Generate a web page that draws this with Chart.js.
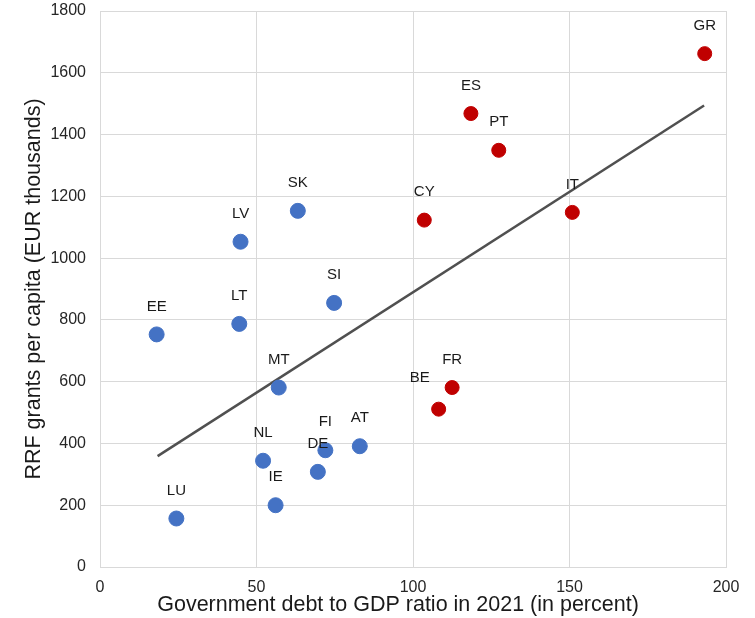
<!doctype html>
<html lang="en">
<head>
<meta charset="UTF-8">
<title>RRF grants vs government debt</title>
<script src="https://cdn.jsdelivr.net/npm/chart.js@4/dist/chart.umd.min.js"></script>
<style>
	body { margin: 0; background: #fff; }
	#holder { width: 755px; height: 618px; }
</style>
</head>
<body>
<div id="holder"><canvas id="chart-area" width="755" height="618"></canvas></div>
<script>
// countries with debt below ~100% (blue group)
var lowCodes = ['LU', 'IE', 'NL', 'DE', 'FI', 'AT', 'MT', 'EE', 'LT', 'SI', 'LV', 'SK'];
var lowDebt  = [24.4, 56.1, 52.1, 69.6, 72.0, 83.0, 57.1, 18.1, 44.5, 74.8, 44.9, 63.2];
var lowRrf   = [157, 200, 344, 308, 378, 391, 581, 753, 787, 855, 1053, 1153];

// high-debt group (red)
var highCodes = ['CY', 'ES', 'PT', 'IT', 'GR', 'FR', 'BE'];
var highDebt  = [103.6, 118.5, 127.4, 150.9, 193.2, 112.5, 108.2];
var highRrf   = [1123, 1468, 1349, 1148, 1662, 581, 511];

// trend line end points
var trendX = [18.4, 193.0];
var trendY = [359, 1494];

var xTicks = [0, 50, 100, 150, 200];
var yTicks = [0, 200, 400, 600, 800, 1000, 1200, 1400, 1600, 1800];

var xTitle = 'Government debt to GDP ratio in 2021 (in percent)';
var yTitle = 'RRF grants per capita (EUR thousands)';

function toPoints(xs, ys) {
	var out = [];
	for (var i = 0; i < xs.length; i++) out.push({x: xs[i], y: ys[i]});
	return out;
}

var FONT = "'Liberation Sans', Arial, sans-serif";

var labelPlugin = {
	id: 'pointLabels',
	afterDatasetsDraw: function(chart) {
		var ctx = chart.ctx;
		ctx.save();
		ctx.font = '15px ' + FONT;
		ctx.fillStyle = '#1a1a1a';
		ctx.textAlign = 'center';
		ctx.textBaseline = 'middle';
		chart.data.datasets.forEach(function(ds, di) {
			if (!ds.codes) return;
			var meta = chart.getDatasetMeta(di);
			meta.data.forEach(function(pt, i) {
				var code = ds.codes[i];
				var dx = 0, dy = -28;
				if (code === 'BE') { dx = -19; dy = -31; }
				ctx.fillText(code, pt.x + dx, pt.y + dy);
			});
		});
		// x axis title, a bit left of the plot centre like the original
		var area = chart.chartArea;
		ctx.font = '21.5px ' + FONT;
		ctx.fillText(xTitle, (area.left + area.right) / 2 - 15, 605);
		ctx.restore();
	}
};

function noPad(s) {
	s.paddingTop = 0; s.paddingBottom = 0;
	s.paddingLeft = 0; s.paddingRight = 0;
}

var config = {
	type: 'scatter',
	data: {
		datasets: [{
			type: 'line',
			data: toPoints(trendX, trendY),
			borderColor: '#505050',
			borderWidth: 2.5,
			pointRadius: 0,
			fill: false,
			order: 3
		}, {
			codes: lowCodes,
			data: toPoints(lowDebt, lowRrf),
			backgroundColor: '#4472C4',
			borderColor: '#4472C4',
			pointRadius: 7.5,
			order: 1
		}, {
			codes: highCodes,
			data: toPoints(highDebt, highRrf),
			backgroundColor: '#C00000',
			borderColor: '#C00000',
			pointRadius: 7,
			order: 2
		}]
	},
	options: {
		responsive: false,
		animation: false,
		events: [],
		layout: { padding: { top: 11, right: 29, left: 0, bottom: 0 } },
		plugins: { legend: { display: false }, tooltip: { enabled: false } },
		scales: {
			x: {
				type: 'linear',
				min: 0, max: 200,
				afterBuildTicks: function(s) { s.ticks = xTicks.map(function(v) { return {value: v}; }); },
				afterFit: function(s) { s.height = 51; noPad(s); },
				grid: { color: '#d9d9d9', lineWidth: 1, drawTicks: false },
				border: { color: '#d9d9d9' },
				ticks: {
					color: '#262626', font: { size: 16, family: FONT }, padding: 11, maxRotation: 0,
					callback: function(v) { return String(v); }
				},
				title: { display: false }
			},
			y: {
				type: 'linear',
				min: 0, max: 1800,
				afterBuildTicks: function(s) { s.ticks = yTicks.map(function(v) { return {value: v}; }); },
				afterFit: function(s) { s.width = 100; noPad(s); },
				grid: { color: '#d9d9d9', lineWidth: 1, drawTicks: false },
				border: { color: '#d9d9d9' },
				ticks: {
					color: '#262626', font: { size: 16, family: FONT }, padding: 14,
					callback: function(v) { return String(v); }
				},
				title: {
					display: true,
					text: yTitle,
					color: '#1a1a1a',
					font: { size: 21.5, family: FONT },
					padding: { top: 21, bottom: 0 }
				}
			}
		}
	},
	plugins: [labelPlugin]
};

window.onload = function() {
	var ctx = document.getElementById('chart-area').getContext('2d');
	window.myChart = new Chart(ctx, config);
};
</script>
</body>
</html>
